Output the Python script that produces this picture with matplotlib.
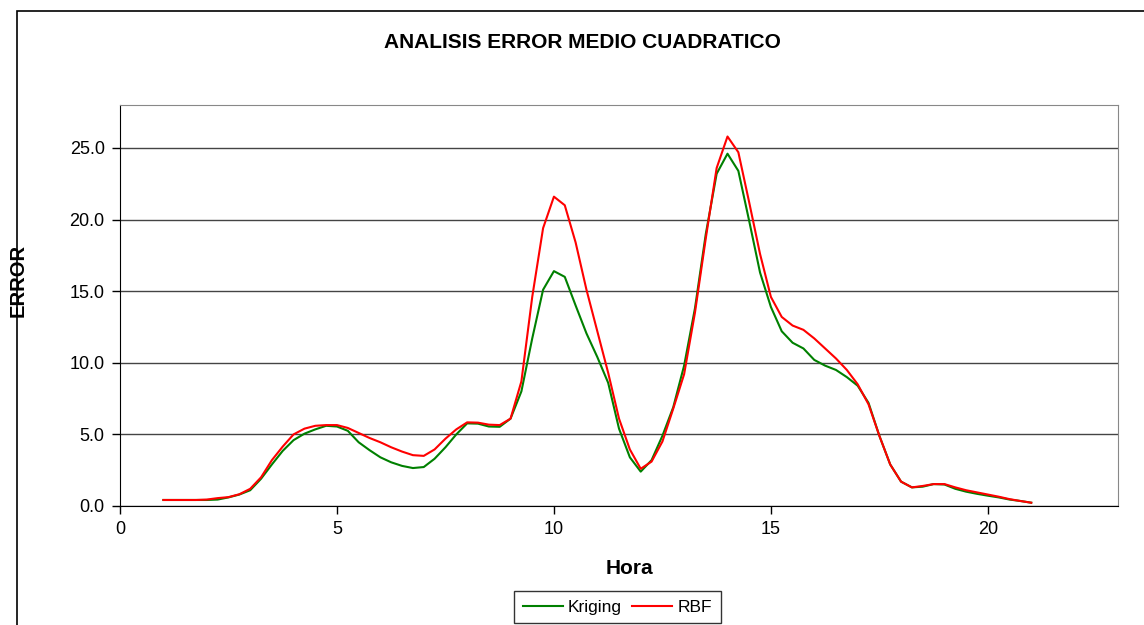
import numpy as np
import matplotlib.pyplot as plt
from matplotlib.patches import Rectangle
from matplotlib.ticker import FormatStrFormatter

plt.rcParams['font.family'] = ['Liberation Sans', 'DejaVu Sans']

# Hora (cada 15 minutos)
hora = np.arange(1, 21.01, 0.25)

kriging = [0.42, 0.42, 0.42, 0.42, 0.42, 0.45, 0.6, 0.8, 1.1, 1.9,
           2.9, 3.85, 4.6, 5.05, 5.35, 5.6, 5.55, 5.25, 4.45, 3.9,
           3.4, 3.05, 2.8, 2.65, 2.72, 3.3, 4.1, 5.0, 5.77, 5.75,
           5.55, 5.53, 6.1, 8.0, 11.7, 15.1, 16.4, 16.0, 14.0, 12.05,
           10.4, 8.6, 5.4, 3.4, 2.4, 3.2, 4.9, 6.9, 9.8, 13.8,
           19.0, 23.2, 24.6, 23.4, 19.9, 16.3, 13.9, 12.2, 11.4, 11.0,
           10.2, 9.8, 9.5, 9.0, 8.4, 7.2, 4.9, 2.9, 1.7, 1.3,
           1.35, 1.53, 1.5, 1.2, 1.0, 0.85, 0.72, 0.6, 0.45, 0.35, 0.23]

rbf = [0.42, 0.42, 0.42, 0.42, 0.45, 0.55, 0.62, 0.82, 1.2, 2.0,
       3.2, 4.15, 5.0, 5.4, 5.6, 5.65, 5.65, 5.45, 5.1, 4.75,
       4.45, 4.1, 3.8, 3.55, 3.5, 3.95, 4.7, 5.35, 5.84, 5.82,
       5.68, 5.65, 6.1, 8.7, 14.6, 19.4, 21.6, 21.0, 18.4, 15.1,
       12.2, 9.3, 6.1, 3.95, 2.6, 3.1, 4.5, 6.8, 9.2, 13.5,
       18.7, 23.6, 25.8, 24.7, 21.2, 17.6, 14.6, 13.2, 12.6, 12.3,
       11.7, 11.0, 10.3, 9.5, 8.5, 7.1, 4.9, 2.9, 1.7, 1.3,
       1.4, 1.53, 1.53, 1.3, 1.1, 0.95, 0.8, 0.65, 0.48, 0.35, 0.23]

fig = plt.figure(figsize=(11.44, 6.25), dpi=100)
ax = fig.add_axes([0.1049, 0.1904, 0.8724, 0.6416])

# marco exterior del grafico
fig.patches.append(Rectangle((17 / 1144, -0.1), 1.2, (625 - 11) / 625 + 0.1,
                             transform=fig.transFigure, fill=False,
                             edgecolor='black', linewidth=1.2))

ax.plot(hora, kriging, color='#008000', lw=1.5, label='Kriging')
ax.plot(hora, rbf, color='#FF0000', lw=1.5, label='RBF')

ax.set_xlim(0, 23)
ax.set_ylim(0, 28)
ax.set_xticks([0, 5, 10, 15, 20])
ax.set_yticks([0, 5, 10, 15, 20, 25])
ax.yaxis.set_major_formatter(FormatStrFormatter('%.1f'))
ax.tick_params(labelsize=13, length=6, width=1, colors='black', pad=5)
ax.grid(axis='y', color='#444444', lw=1)
ax.set_axisbelow(True)

for s in ['top', 'right']:
    ax.spines[s].set_color('#888888')
for s in ['left', 'bottom']:
    ax.spines[s].set_color('black')

fig.text(582 / 1144, 1 - 43 / 625, 'ANALISIS ERROR MEDIO CUADRATICO',
         ha='center', va='center', fontsize=15, fontweight='bold')
fig.text(18 / 1144, 1 - 280 / 625, 'ERROR', rotation=90,
         ha='center', va='center', fontsize=14.5, fontweight='bold')
fig.text(629 / 1144, 1 - 568 / 625, 'Hora',
         ha='center', va='center', fontsize=15, fontweight='bold')

leg = fig.legend(loc='center', bbox_to_anchor=(617.5 / 1144, 1 - 607 / 625),
                 ncol=2, fontsize=12.5, frameon=True, fancybox=False,
                 edgecolor='black', handlelength=2.3, handletextpad=0.3,
                 columnspacing=0.6, borderpad=0.5, borderaxespad=0)
leg.get_frame().set_linewidth(1)

fig.savefig('out.png', dpi=100)
